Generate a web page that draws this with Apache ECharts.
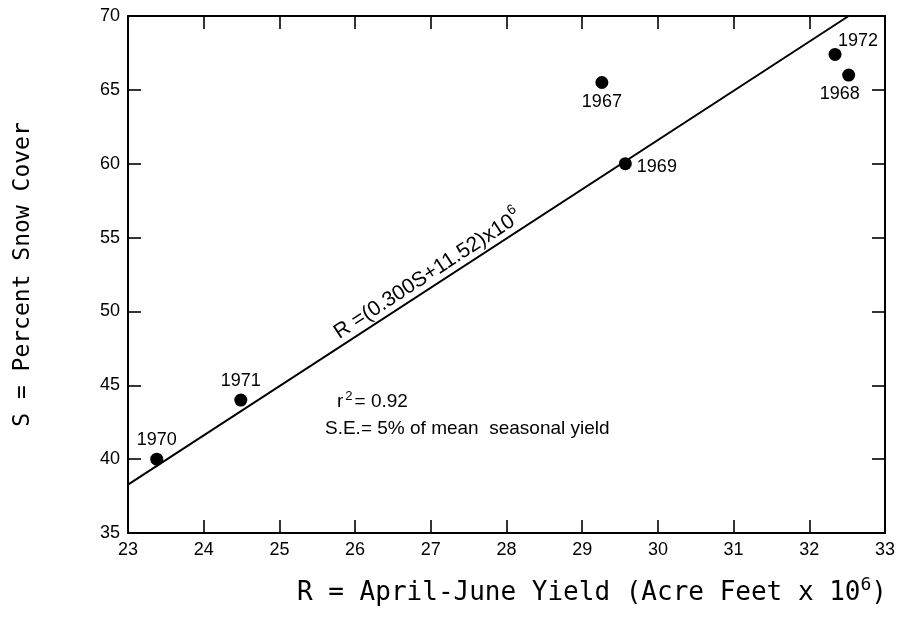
<!DOCTYPE html>
<html><head><meta charset="utf-8">
<script src="https://cdn.jsdelivr.net/npm/echarts@6/dist/echarts.min.js"></script>
<style>html,body{margin:0;padding:0;background:#fff}#c{width:901px;height:620px}</style>
</head><body><div id="c"></div>
<script>
// Data
const years = ['1970', '1971', '1967', '1969', '1972', '1968'];
const yieldR = [23.38, 24.49, 29.26, 29.57, 32.34, 32.52];   // R, acre feet x 10^6
const snowS = [40.0, 44.0, 65.5, 60.0, 67.4, 66.0];          // S, percent snow cover
const fitR = [23.0, 32.52];                                   // regression line ends
const fitS = [38.27, 70.0];
const xTicks = [23, 33, 1];
const yTicks = [35, 70, 5];

const labelPlace = {
  '1970': {position: 'top', offset: [0, 1]},
  '1971': {position: 'top', offset: [0, 1]},
  '1967': {position: 'bottom', offset: [0, -1]},
  '1969': {position: 'right', offset: [0, 3]},
  '1972': {position: 'top', offset: [23, 7]},
  '1968': {position: 'bottom', offset: [-9, -2]}
};

const chart = echarts.init(document.getElementById('c'));
const FONT = '"Liberation Sans", Arial, sans-serif';
const MONO = '"DejaVu Sans Mono", monospace';

function axisBase(show, pos) {
  return {
    type: 'value', position: pos,
    axisLine: {show: true, onZero: false, lineStyle: {color: '#000', width: 2}},
    axisTick: {show: true, inside: true, length: 13, lineStyle: {color: '#000', width: 1.6}},
    axisLabel: {show: show, color: '#000', fontSize: 18, fontFamily: FONT, margin: 8},
    splitLine: {show: false}
  };
}
const xa = (pos, show) => Object.assign(axisBase(show, pos), {min: xTicks[0], max: xTicks[1], interval: xTicks[2]});
const ya = (pos, show) => Object.assign(axisBase(show, pos), {min: yTicks[0], max: yTicks[1], interval: yTicks[2]});

const pts = years.map((y, i) => ({
  value: [yieldR[i], snowS[i]],
  name: y,
  label: Object.assign({show: true, formatter: y, color: '#000', fontSize: 18, fontFamily: FONT}, labelPlace[y])
}));

chart.setOption({
  animation: false,
  backgroundColor: '#fff',
  grid: {left: 128, right: 16, top: 16, bottom: 87},
  xAxis: [xa('bottom', true), xa('top', false)],
  yAxis: [
    Object.assign(ya('left', true), {
      name: 'S = Percent Snow Cover', nameLocation: 'middle', nameGap: 93,
      nameTextStyle: {fontFamily: MONO, fontSize: 23, color: '#000'}
    }),
    ya('right', false)
  ],
  series: [
    {
      type: 'line', data: fitR.map((r, i) => [r, fitS[i]]), showSymbol: false, symbol: 'none',
      lineStyle: {color: '#000', width: 2}, silent: true, z: 2
    },
    {
      type: 'scatter', data: pts, symbol: 'circle', symbolSize: 13,
      itemStyle: {color: '#000', opacity: 1}, z: 3
    }
  ]
});

// Annotations positioned from the axes
const p0 = chart.convertToPixel({gridIndex: 0}, [fitR[0], fitS[0]]);
const p1 = chart.convertToPixel({gridIndex: 0}, [fitR[1], fitS[1]]);
const ang = Math.atan2(p0[1] - p1[1], p1[0] - p0[0]);
const eqR = 27.05;
const eqS = fitS[0] + (eqR - fitR[0]) * (fitS[1] - fitS[0]) / (fitR[1] - fitR[0]);
const pe = chart.convertToPixel({gridIndex: 0}, [eqR, eqS]);
const off = 2;
const ex = pe[0] - Math.sin(ang) * off, ey = pe[1] - Math.cos(ang) * off;

chart.setOption({
  graphic: [
    {
      type: 'text', x: ex, y: ey, rotation: ang, z: 10,
      style: {
        text: '{a|R =(0.300S+11.52)x10}{s|6}',
        align: 'center', verticalAlign: 'bottom',
        rich: {
          a: {fontSize: 21, fontFamily: FONT, fill: '#000', color: '#000', verticalAlign: 'bottom'},
          s: {fontSize: 14, fontFamily: FONT, fill: '#000', color: '#000', verticalAlign: 'top', padding: [0, 0, 12, 0]}
        }
      }
    },
    {
      type: 'text', left: 337, top: 390, z: 10,
      style: {
        text: '{a|r}{s|2}{a|= 0.92}',
        rich: {
          a: {fontSize: 19, fontFamily: FONT, fill: '#000', color: '#000'},
          s: {fontSize: 13, fontFamily: FONT, fill: '#000', color: '#000', padding: [0, 2, 11, 2]}
        }
      }
    },
    {
      type: 'text', left: 325, top: 419, z: 10,
      style: {text: 'S.E.= 5% of mean  seasonal yield', font: '19px ' + FONT, fill: '#000'}
    },
    {
      type: 'text', left: 297, top: 576, z: 10,
      style: {
        text: '{a|R = April-June Yield (Acre Feet x 10}{s|6}{a|)}',
        rich: {
          a: {fontSize: 26, fontFamily: MONO, fill: '#000', color: '#000'},
          s: {fontSize: 18, fontFamily: MONO, fill: '#000', color: '#000', padding: [0, 0, 17, 0]}
        }
      }
    }
  ]
});
</script></body></html>
